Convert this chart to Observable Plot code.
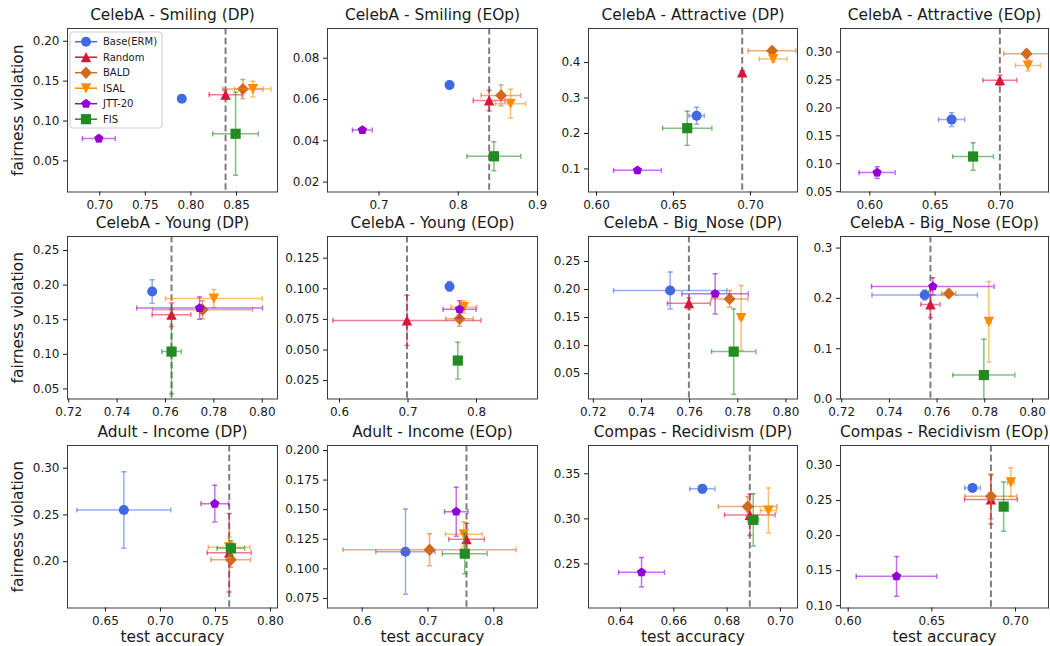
<!DOCTYPE html>
<html><head><meta charset="utf-8">
<script src="https://cdn.jsdelivr.net/npm/d3@7"></script>
<script src="https://cdn.jsdelivr.net/npm/@observablehq/plot@0.6"></script>
<style>
body{margin:0;background:#fff;}
#chart{position:relative;width:1050px;height:646px;overflow:hidden;background:#fff;font-family:"DejaVu Sans",sans-serif;}
#chart svg{position:absolute;}
</style></head><body><div id="chart"></div>
<script>
// ---------------- data ----------------
const methods = ["Base(ERM)", "Random", "BALD", "ISAL", "JTT-20", "FIS"];
const colors = ["#4169e1", "#dc143c", "#d2691e", "#ff8c00", "#9400d3", "#228b22"];
const titles = [
  "CelebA - Smiling (DP)", "CelebA - Smiling (EOp)", "CelebA - Attractive (DP)", "CelebA - Attractive (EOp)",
  "CelebA - Young (DP)", "CelebA - Young (EOp)", "CelebA - Big_Nose (DP)", "CelebA - Big_Nose (EOp)",
  "Adult - Income (DP)", "Adult - Income (EOp)", "Compas - Recidivism (DP)", "Compas - Recidivism (EOp)"
];
const xLabel = "test accuracy";
const yLabel = "fairness violation";
// test accuracy per panel (order of methods)
const acc = [
  [0.790, 0.838, 0.857, 0.868, 0.699, 0.849],
  [0.789, 0.839, 0.854, 0.866, 0.679, 0.845],
  [0.665, 0.6946, 0.714, 0.7147, 0.6266, 0.6589],
  [0.6626, 0.6995, 0.7199, 0.721, 0.6056, 0.679],
  [0.7545, 0.7625, 0.7753, 0.780, 0.7741, 0.7625],
  [0.7606, 0.6985, 0.7752, 0.7815, 0.7752, 0.7727],
  [0.7519, 0.7597, 0.7766, 0.7814, 0.7706, 0.7783],
  [0.7548, 0.7572, 0.7649, 0.7817, 0.7582, 0.7796],
  [0.6667, 0.7625, 0.764, 0.7625, 0.7494, 0.764],
  [0.6658, 0.7585, 0.7024, 0.7544, 0.7429, 0.7559],
  [0.6707, 0.6885, 0.6877, 0.6955, 0.6479, 0.6898],
  [0.6743, 0.6853, 0.6853, 0.6972, 0.6289, 0.6929]
];
const accErr = [
  [0.002, 0.018, 0.022, 0.020, 0.018, 0.025],
  [0.002, 0.020, 0.025, 0.019, 0.0125, 0.034],
  [0.005, 0.001, 0.0155, 0.009, 0.0155, 0.016],
  [0.010, 0.013, 0.0175, 0.0095, 0.0138, 0.0156],
  [0.001, 0.008, 0.0207, 0.020, 0.026, 0.004],
  [0.003, 0.108, 0.020, 0.019, 0.024, 0.003],
  [0.0235, 0.0089, 0.0076, 0.001, 0.0138, 0.0092],
  [0.0221, 0.004, 0.003, 0.001, 0.0257, 0.013],
  [0.0427, 0.020, 0.018, 0.019, 0.0125, 0.0125],
  [0.045, 0.027, 0.1315, 0.028, 0.0178, 0.034],
  [0.0047, 0.0095, 0.011, 0.003, 0.0086, 0.002],
  [0.0047, 0.0158, 0.0155, 0.002, 0.0241, 0.002]
];
// fairness violation per panel
const fv = [
  [0.128, 0.133, 0.140, 0.140, 0.078, 0.084],
  [0.067, 0.0595, 0.062, 0.058, 0.0452, 0.0325],
  [0.250, 0.372, 0.433, 0.410, 0.096, 0.215],
  [0.179, 0.2494, 0.297, 0.276, 0.0842, 0.113],
  [0.1908, 0.1572, 0.1645, 0.1806, 0.1668, 0.104],
  [0.1019, 0.0742, 0.0755, 0.0851, 0.0832, 0.0414],
  [0.1982, 0.1755, 0.1833, 0.1494, 0.1923, 0.0893],
  [0.2066, 0.188, 0.2095, 0.1534, 0.2238, 0.0476],
  [0.2553, 0.2095, 0.2021, 0.2153, 0.262, 0.2143],
  [0.1145, 0.125, 0.1161, 0.1292, 0.1483, 0.1128],
  [0.3333, 0.3044, 0.3136, 0.3092, 0.2407, 0.2989],
  [0.2681, 0.2514, 0.2561, 0.2761, 0.1419, 0.2414]
];
const fvErr = [
  [0.004, 0.006, 0.012, 0.010, 0.004, 0.052],
  [0.0018, 0.005, 0.005, 0.007, 0.001, 0.007],
  [0.024, 0.005, 0.008, 0.008, 0.003, 0.048],
  [0.0125, 0.009, 0.006, 0.010, 0.0105, 0.0245],
  [0.017, 0.017, 0.013, 0.013, 0.016, 0.061],
  [0.004, 0.0206, 0.006, 0.005, 0.007, 0.015],
  [0.033, 0.010, 0.015, 0.058, 0.036, 0.076],
  [0.010, 0.026, 0.007, 0.080, 0.017, 0.071],
  [0.041, 0.042, 0.008, 0.011, 0.0197, 0.008],
  [0.036, 0.0135, 0.0135, 0.0105, 0.0207, 0.017],
  [0.0045, 0.0228, 0.011, 0.025, 0.0163, 0.029],
  [0.004, 0.035, 0.032, 0.0207, 0.0284, 0.035]
];
// axis extents and tick labels
const xDomains = [
  [0.6646, 0.895], [0.635, 0.9], [0.5948, 0.7305], [0.5776, 0.7367],
  [0.7195, 0.8063], [0.5825, 0.889], [0.718, 0.8048], [0.7195, 0.8067],
  [0.6155, 0.8064], [0.5473, 0.8664], [0.628, 0.7064], [0.5954, 0.7197]
];
const yDomains = [
  [0.011, 0.216], [0.0152, 0.0944], [0.035, 0.496], [0.0495, 0.342],
  [0.0355, 0.2702], [0.010, 0.1427], [0.0048, 0.2946], [0.0, 0.323],
  [0.1504, 0.3243], [0.0669, 0.2042], [0.2011, 0.3814], [0.0967, 0.3286]
];
const xTickLabels = [
  ["0.70", "0.75", "0.80", "0.85"], ["0.7", "0.8", "0.9"], ["0.60", "0.65", "0.70"], ["0.60", "0.65", "0.70"],
  ["0.72", "0.74", "0.76", "0.78", "0.80"], ["0.6", "0.7", "0.8"], ["0.72", "0.74", "0.76", "0.78", "0.80"], ["0.72", "0.74", "0.76", "0.78", "0.80"],
  ["0.65", "0.70", "0.75", "0.80"], ["0.6", "0.7", "0.8"], ["0.64", "0.66", "0.68", "0.70"], ["0.60", "0.65", "0.70"]
];
const yTickLabels = [
  ["0.05", "0.10", "0.15", "0.20"], ["0.02", "0.04", "0.06", "0.08"], ["0.1", "0.2", "0.3", "0.4"], ["0.05", "0.10", "0.15", "0.20", "0.25", "0.30"],
  ["0.05", "0.10", "0.15", "0.20", "0.25"], ["0.025", "0.050", "0.075", "0.100", "0.125"], ["0.05", "0.10", "0.15", "0.20", "0.25"], ["0.0", "0.1", "0.2", "0.3"],
  ["0.20", "0.25", "0.30"], ["0.075", "0.100", "0.125", "0.150", "0.175", "0.200"], ["0.25", "0.30", "0.35"], ["0.10", "0.15", "0.20", "0.25", "0.30"]
];

// ---------------- layout ----------------
const colLeft = [67, 327, 588, 840], colRight = [277, 537, 797, 1048];
const rowTop = [27.5, 236, 445], rowBottom = [191, 398.5, 607.5];

// ---------------- symbols ----------------
const sym = {
  circle: {draw(c) { c.moveTo(5, 0); c.arc(0, 0, 5, 0, 2 * Math.PI); }},
  triUp: {draw(c) { c.moveTo(0, -5.2); c.lineTo(5.2, 5); c.lineTo(-5.2, 5); c.closePath(); }},
  diamond: {draw(c) { c.moveTo(0, -6.2); c.lineTo(6, 0); c.lineTo(0, 6.2); c.lineTo(-6, 0); c.closePath(); }},
  triDown: {draw(c) { c.moveTo(0, 5.2); c.lineTo(5.2, -5); c.lineTo(-5.2, -5); c.closePath(); }},
  pentagon: {draw(c) { const R = 4.9; for (let k = 0; k < 5; k++) { const a = -Math.PI / 2 + k * 2 * Math.PI / 5; const px = R * Math.cos(a), py = R * Math.sin(a); k ? c.lineTo(px, py) : c.moveTo(px, py); } c.closePath(); }},
  square: {draw(c) { c.rect(-5.1, -5.1, 10.2, 10.2); }},
  capH: {draw(c) { c.moveTo(-2.6, 0); c.lineTo(2.6, 0); }},
  capV: {draw(c) { c.moveTo(0, -2.6); c.lineTo(0, 2.6); }}
};
const methodSym = [sym.circle, sym.triUp, sym.diamond, sym.triDown, sym.pentagon, sym.square];

const chart = document.getElementById("chart");
const mL = 62, mR = 8, mT = 34, mB = 44;

titles.forEach((title, i) => {
  const col = i % 4, row = Math.floor(i / 4);
  const fl = colLeft[col], fr = colRight[col], ft = rowTop[row], fb = rowBottom[row];
  const xt = xTickLabels[i].map(Number), yt = yTickLabels[i].map(Number);
  const marks = [];
  // reference line at the Random baseline accuracy
  marks.push(Plot.ruleX([acc[i][1]], {stroke: "#7f7f7f", strokeWidth: 2, strokeDasharray: "6.5,3.2"}));
  methods.forEach((m, j) => {
    const c = colors[j];
    const d = {x: acc[i][j], y: fv[i][j], xe: accErr[i][j], ye: fvErr[i][j]};
    const bar = {stroke: c, strokeOpacity: 0.55, strokeWidth: 1.5, clip: true};
    marks.push(Plot.ruleY([d], {y: "y", x1: (v) => v.x - v.xe, x2: (v) => v.x + v.xe, ...bar}));
    marks.push(Plot.ruleX([d], {x: "x", y1: (v) => v.y - v.ye, y2: (v) => v.y + v.ye, ...bar}));
    marks.push(Plot.dot([d, d], {x: (v, k) => v.x + (k ? v.xe : -v.xe), y: "y", r: 1, symbol: sym.capV, fill: "none", ...bar}));
    marks.push(Plot.dot([d, d], {x: "x", y: (v, k) => v.y + (k ? v.ye : -v.ye), r: 1, symbol: sym.capH, fill: "none", ...bar}));
    marks.push(Plot.dot([d], {x: "x", y: "y", r: 5, symbol: methodSym[j], fill: c, stroke: "none"}));
  });
  marks.push(Plot.frame({stroke: "#3c3c3c", strokeWidth: 1}));
  marks.push(Plot.axisX(xt, {tickFormat: (v) => xTickLabels[i][xt.indexOf(v)], tickSize: 4, tickPadding: 4, label: null, fontSize: 12}));
  marks.push(Plot.axisY(yt, {tickFormat: (v) => yTickLabels[i][yt.indexOf(v)], tickSize: 4, tickPadding: 4, label: null, fontSize: 12}));
  marks.push(Plot.text([title], {frameAnchor: "top", lineAnchor: "middle", textAnchor: "middle", dy: -13, fontSize: 15.4, text: (t) => t}));
  if (col === 0) marks.push(Plot.text([yLabel], {frameAnchor: "left", lineAnchor: "middle", textAnchor: "middle", rotate: -90, dx: -49, fontSize: 15.4, text: (t) => t}));
  if (row === 2) marks.push(Plot.text([xLabel], {frameAnchor: "bottom", lineAnchor: "middle", textAnchor: "middle", dy: 29, fontSize: 15.4, text: (t) => t}));

  const svg = Plot.plot({
    width: fr - fl + mL + mR, height: fb - ft + mT + mB,
    marginLeft: mL, marginRight: mR, marginTop: mT, marginBottom: mB,
    x: {domain: xDomains[i]}, y: {domain: yDomains[i]},
    style: {fontFamily: "DejaVu Sans, sans-serif", fontSize: "12px", background: "transparent", overflow: "visible", color: "#1a1a1a", maxWidth: "none"},
    marks
  });
  svg.style.position = "absolute";
  svg.style.left = (fl - mL) + "px";
  svg.style.top = (ft - mT) + "px";
  chart.appendChild(svg);
});

// ---------------- legend (first panel, upper left) ----------------
const lg = d3.select(chart).append("svg")
  .attr("width", 96).attr("height", 100)
  .style("left", "69px").style("top", "31px").style("z-index", 5);
lg.append("rect").attr("x", 1).attr("y", 1).attr("width", 92).attr("height", 96).attr("rx", 3)
  .attr("fill", "rgba(255,255,255,0.8)").attr("stroke", "#cccccc");
methods.forEach((m, j) => {
  const cy = 10.7 + j * 15.5;
  const g = lg.append("g");
  g.append("line").attr("x1", 6).attr("x2", 28).attr("y1", cy).attr("y2", cy)
    .attr("stroke", colors[j]).attr("stroke-width", 1.5);
  const p = d3.path(); methodSym[j].draw(p);
  g.append("path").attr("d", p.toString()).attr("transform", `translate(17,${cy})`).attr("fill", colors[j]);
  g.append("text").attr("x", 34).attr("y", cy).attr("dy", "0.35em")
    .attr("font-size", 10).attr("font-family", "DejaVu Sans, sans-serif").attr("fill", "#1a1a1a").text(m);
});
</script></body></html>
